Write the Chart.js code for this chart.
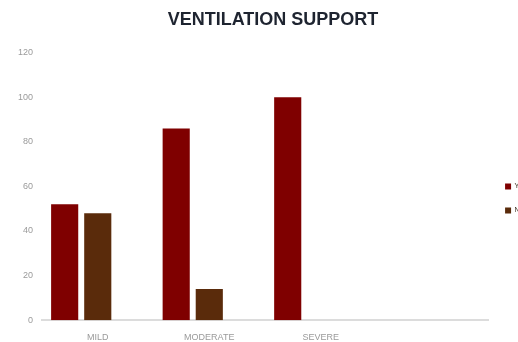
<!DOCTYPE html>
<html>
<head>
<meta charset="utf-8">
<script src="https://cdn.jsdelivr.net/npm/chart.js@4"></script>
<style>
  html, body { margin: 0; padding: 0; background: #fff; overflow: hidden; }
  #ventChart { display: block; }
</style>
</head>
<body>
<canvas id="ventChart" width="546" height="342"></canvas>
<script>
// severity groups (last slot left empty on the axis)
const severity = ['MILD', 'MODERATE', 'SEVERE', ''];
const yesValues = [52, 86, 100, null];
const noValues = [48, 14, 0, null];
const spareValues = [null, null, null, null];
const yTicks = [0, 20, 40, 60, 80, 100, 120];

const tickFont = { family: 'Liberation Sans, Arial, sans-serif', size: 9 };

new Chart('ventChart', {
    type: 'bar',
    data: {
        labels: severity,
        datasets: [{
            label: 'Yes',
            data: yesValues,
            backgroundColor: '#7f0000'
        }, {
            label: 'No',
            data: noValues,
            backgroundColor: '#5a2b0b'
        }, {
            label: '',
            data: spareValues,
            backgroundColor: 'rgba(0,0,0,0)'
        }]
    },
    options: {
        responsive: false,
        animation: false,
        categoryPercentage: 0.89,
        barPercentage: 0.82,
        layout: { padding: { left: 10, right: 10, top: 0, bottom: -13 } },
        plugins: {
            title: {
                display: true,
                text: 'VENTILATION SUPPORT',
                color: '#1e2430',
                font: { family: 'Liberation Sans, Arial, sans-serif', size: 18, weight: 'bold' },
                padding: { top: 9, bottom: 22 }
            },
            legend: {
                position: 'right',
                align: 'start',
                fullSize: false,
                title: { display: true, text: ' ', padding: { top: 99, bottom: 0 } },
                labels: {
                    boxWidth: 6,
                    boxHeight: 6,
                    padding: 17,
                    color: '#3a2a1a',
                    font: { family: 'Liberation Sans, Arial, sans-serif', size: 7 },
                    filter: (item) => item.text !== ''
                }
            },
            tooltip: { enabled: false }
        },
        scales: {
            x: {
                grid: { display: false, drawTicks: false },
                border: { display: true, color: '#dcdcdc', width: 2 },
                ticks: { color: '#9a9a9a', font: tickFont, padding: 12, maxRotation: 0 }
            },
            y: {
                min: 0,
                max: 120,
                afterBuildTicks: (scale) => {
                    scale.ticks = yTicks.map(v => ({ value: v }));
                },
                afterFit: (scale) => { scale.width = 32; },
                grid: { display: false, drawTicks: false },
                border: { display: false },
                ticks: { color: '#9a9a9a', font: tickFont, padding: 9 }
            }
        }
    }
});
</script>
</body>
</html>
